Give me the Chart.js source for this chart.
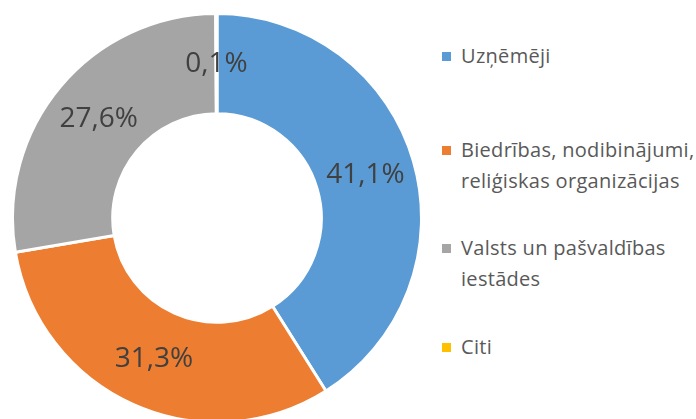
<!DOCTYPE html>
<html>
<head>
<meta charset="utf-8">
<script src="https://cdn.jsdelivr.net/npm/chart.js@4.4.0/dist/chart.umd.min.js"></script>
<style>
  html, body { margin: 0; padding: 0; background: #fff; }
  #wrap { position: relative; width: 696px; height: 419px; overflow: hidden; }
  #chartBox { position: absolute; left: 11px; top: 12px; width: 412px; height: 412px; }
  #legend { position: absolute; left: 441px; top: 0; width: 255px; }
  .item { position: absolute; left: 0; width: 262px; font-family: "Open Sans", sans-serif;
          font-size: 20px; line-height: 31px; color: #595959; letter-spacing: 0.3px; }
  .item .box { position: absolute; left: 1px; top: 12px; width: 9px; height: 9px; }
  .item .txt { margin-left: 20px; display: block; }
</style>
</head>
<body>
<div id="wrap">
  <div id="chartBox"><canvas id="pie"></canvas></div>
  <div id="legend"></div>
</div>
<script>
const categories = ["Uzņēmēji", "Biedrības, nodibinājumi, reliģiskas organizācijas", "Valsts un pašvaldības iestādes", "Citi"];
const shares = [41.1, 31.3, 27.6, 0.1];
const colors = ["#5B9BD5", "#ED7D31", "#A5A5A5", "#FFC000"];

// top of each legend entry (first line)
const legendTops = [40, 134, 232, 331];

const legend = document.getElementById("legend");
categories.forEach((name, i) => {
  const item = document.createElement("div");
  item.className = "item";
  item.style.top = legendTops[i] + "px";
  const box = document.createElement("span");
  box.className = "box";
  box.style.background = colors[i];
  const txt = document.createElement("span");
  txt.className = "txt";
  txt.textContent = name;
  item.appendChild(box);
  item.appendChild(txt);
  legend.appendChild(item);
});

// percentage labels in the middle of each ring segment
const sliceLabels = {
  id: "sliceLabels",
  afterDatasetsDraw(chart) {
    const ctx = chart.ctx;
    const meta = chart.getDatasetMeta(0);
    ctx.save();
    ctx.font = '28px "Open Sans", sans-serif';
    ctx.fillStyle = "#404040";
    ctx.textAlign = "center";
    ctx.textBaseline = "middle";
    meta.data.forEach((arc, i) => {
      const p = arc.getCenterPoint();
      const txt = shares[i].toFixed(1).replace(".", ",") + "%";
      ctx.fillText(txt, p.x, p.y);
    });
    ctx.restore();
  }
};

new Chart(document.getElementById("pie"), {
  type: "doughnut",
  data: {
    labels: categories,
    datasets: [{
      data: shares,
      backgroundColor: colors,
      borderColor: "#ffffff",
      borderWidth: 3
    }]
  },
  options: {
    responsive: true,
    maintainAspectRatio: false,
    animation: false,
    cutout: "51%",
    layout: { padding: 0 },
    plugins: {
      legend: { display: false },
      tooltip: { enabled: false }
    }
  },
  plugins: [sliceLabels]
});
</script>
</body>
</html>
